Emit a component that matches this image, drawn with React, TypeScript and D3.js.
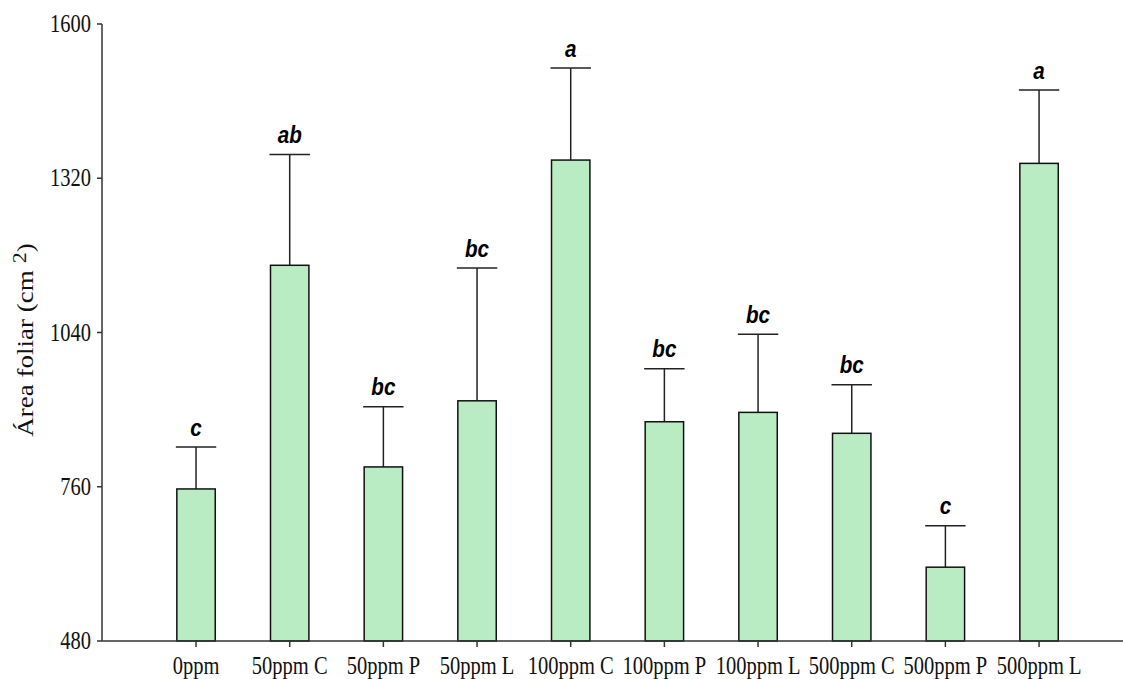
import React from "react";
import * as d3 from "d3";

const categories = [
  "0ppm", "50ppm C", "50ppm P", "50ppm L", "100ppm C",
  "100ppm P", "100ppm L", "500ppm C", "500ppm P", "500ppm L",
];
const means = [756, 1162, 796, 916, 1353, 878, 895, 857, 614, 1347];
const errors = [76, 201, 109, 241, 167, 96, 142, 88, 75, 133];
const letters = ["c", "ab", "bc", "bc", "a", "bc", "bc", "bc", "c", "a"];
const yTicks = [480, 760, 1040, 1320, 1600];

const W = 1123;
const H = 679;
const axisX = 102;
const baseY = 641;
const topY = 24;

const serif = "'Liberation Serif', 'Times New Roman', serif";
const sans = "'Liberation Sans', Arial, sans-serif";

export default function App() {
  const y = d3.scaleLinear().domain([480, 1600]).range([baseY, topY]);
  const x = d3
    .scaleBand<string>()
    .domain(categories)
    .range([149.2, 1085.9])
    .paddingInner(0.59)
    .paddingOuter(0.295);
  const bw = x.bandwidth();
  const capHalf = bw / 2 + 1;

  return (
    <svg
      width={W}
      height={H}
      style={{ position: "absolute", left: 0, top: 0, background: "#fff" }}
    >
      {/* bars with error bars and significance letters */}
      {categories.map((c, i) => {
        const x0 = x(c)!;
        const cx = x0 + bw / 2;
        const top = y(means[i]);
        const errTop = y(means[i] + errors[i]);
        return (
          <g key={c}>
            <line x1={cx} x2={cx} y1={top} y2={errTop} stroke="#222" strokeWidth={1.5} />
            <line x1={cx - capHalf} x2={cx + capHalf} y1={errTop} y2={errTop} stroke="#222" strokeWidth={1.5} />
            <rect
              x={x0}
              y={top}
              width={bw}
              height={baseY - top}
              fill="#b9ecc3"
              stroke="#111"
              strokeWidth={1.5}
            />
            <text
              transform={`translate(${cx},${errTop - 11.5}) scale(0.86,1)`}
              textAnchor="middle"
              fontFamily={sans}
              fontWeight="bold"
              fontStyle="italic"
              fontSize={24}
              fill="#000"
            >
              {letters[i]}
            </text>
          </g>
        );
      })}

      {/* y axis */}
      <line x1={axisX} x2={axisX} y1={topY} y2={baseY} stroke="#333" strokeWidth={1.5} />
      {yTicks.map((t) => (
        <g key={t}>
          <line x1={axisX - 5} x2={axisX} y1={y(t)} y2={y(t)} stroke="#333" strokeWidth={1.5} />
          <text
            transform={`translate(${axisX - 11},${y(t) + 8}) scale(0.82,1)`}
            textAnchor="end"
            fontFamily={serif}
            fontSize={25}
            fill="#111"
          >
            {t}
          </text>
        </g>
      ))}

      {/* x axis */}
      <line x1={axisX} x2={W} y1={baseY} y2={baseY} stroke="#333" strokeWidth={1.5} />
      {categories.map((c) => {
        const cx = x(c)! + bw / 2;
        return (
          <g key={c}>
            <line x1={cx} x2={cx} y1={baseY} y2={baseY + 6} stroke="#333" strokeWidth={1.5} />
            <text
              transform={`translate(${cx},${baseY + 33}) scale(0.82,1)`}
              textAnchor="middle"
              fontFamily={serif}
              fontSize={25}
              fill="#111"
            >
              {c}
            </text>
          </g>
        );
      })}

      {/* y axis title */}
      <text
        transform={`translate(33,340) rotate(-90) scale(1,0.82)`}
        textAnchor="middle"
        fontFamily={serif}
        fontSize={27}
        fill="#111"
      >
        Área foliar (cm
        <tspan dx={7} dy={-8} fontSize={22}>2</tspan>
        <tspan dy={8}>)</tspan>
      </text>
    </svg>
  );
}
